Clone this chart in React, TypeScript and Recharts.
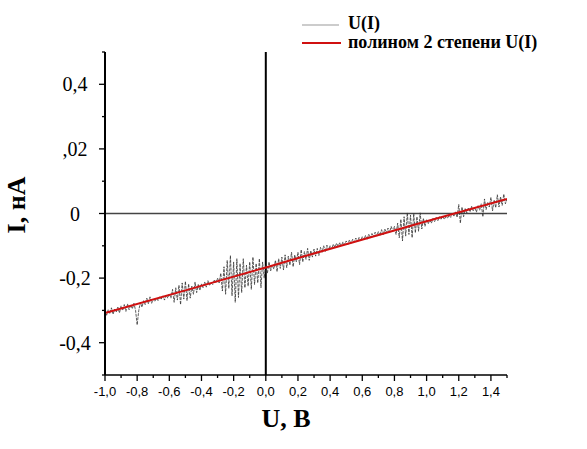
import React from 'react';
import { LineChart, Line, XAxis, YAxis, ReferenceLine } from 'recharts';

// U, B
const uValues = [
  -1.0, -0.99, -0.98, -0.97, -0.96, -0.95, -0.94, -0.93, -0.92, -0.91,
  -0.9, -0.89, -0.88, -0.87, -0.86, -0.85, -0.84, -0.83, -0.82, -0.81,
  -0.8, -0.79, -0.78, -0.77, -0.76, -0.75, -0.74, -0.73, -0.72, -0.71,
  -0.7, -0.69, -0.68, -0.67, -0.66, -0.65, -0.64, -0.63, -0.62, -0.61,
  -0.6, -0.59, -0.58, -0.57, -0.56, -0.55, -0.54, -0.53, -0.52, -0.51,
  -0.5, -0.49, -0.48, -0.47, -0.46, -0.45, -0.44, -0.43, -0.42, -0.41,
  -0.4, -0.39, -0.38, -0.37, -0.36, -0.35, -0.34, -0.33, -0.32, -0.31,
  -0.3, -0.29, -0.28, -0.27, -0.26, -0.25, -0.24, -0.23, -0.22, -0.21,
  -0.2, -0.19, -0.18, -0.17, -0.16, -0.15, -0.14, -0.13, -0.12, -0.11,
  -0.1, -0.09, -0.08, -0.07, -0.06, -0.05, -0.04, -0.03, -0.02, -0.01,
  0.0, 0.01, 0.02, 0.03, 0.04, 0.05, 0.06, 0.07, 0.08, 0.09,
  0.1, 0.11, 0.12, 0.13, 0.14, 0.15, 0.16, 0.17, 0.18, 0.19,
  0.2, 0.21, 0.22, 0.23, 0.24, 0.25, 0.26, 0.27, 0.28, 0.29,
  0.3, 0.31, 0.32, 0.33, 0.34, 0.35, 0.36, 0.37, 0.38, 0.39,
  0.4, 0.41, 0.42, 0.43, 0.44, 0.45, 0.46, 0.47, 0.48, 0.49,
  0.5, 0.51, 0.52, 0.53, 0.54, 0.55, 0.56, 0.57, 0.58, 0.59,
  0.6, 0.61, 0.62, 0.63, 0.64, 0.65, 0.66, 0.67, 0.68, 0.69,
  0.7, 0.71, 0.72, 0.73, 0.74, 0.75, 0.76, 0.77, 0.78, 0.79,
  0.8, 0.81, 0.82, 0.83, 0.84, 0.85, 0.86, 0.87, 0.88, 0.89,
  0.9, 0.91, 0.92, 0.93, 0.94, 0.95, 0.96, 0.97, 0.98, 0.99,
  1.0, 1.01, 1.02, 1.03, 1.04, 1.05, 1.06, 1.07, 1.08, 1.09,
  1.1, 1.11, 1.12, 1.13, 1.14, 1.15, 1.16, 1.17, 1.18, 1.19,
  1.2, 1.21, 1.22, 1.23, 1.24, 1.25, 1.26, 1.27, 1.28, 1.29,
  1.3, 1.31, 1.32, 1.33, 1.34, 1.35, 1.36, 1.37, 1.38, 1.39,
  1.4, 1.41, 1.42, 1.43, 1.44, 1.45, 1.46, 1.47, 1.48, 1.49,
  1.5,
];

const iValues = [
  -0.300, -0.315, -0.298, -0.310, -0.292, -0.312, -0.296, -0.305, -0.290, -0.308,
  -0.286, -0.300, -0.282, -0.303, -0.280, -0.298, -0.283, -0.295, -0.278, -0.300,
  -0.345, -0.300, -0.275, -0.290, -0.270, -0.282, -0.262, -0.280, -0.258, -0.278,
  -0.265, -0.272, -0.262, -0.270, -0.258, -0.265, -0.255, -0.268, -0.252, -0.262,
  -0.248, -0.262, -0.235, -0.275, -0.230, -0.268, -0.222, -0.282, -0.215, -0.265,
  -0.210, -0.270, -0.218, -0.262, -0.225, -0.250, -0.212, -0.245, -0.220, -0.238,
  -0.218, -0.230, -0.212, -0.228, -0.208, -0.222, -0.215, -0.220, -0.205, -0.215,
  -0.200, -0.215, -0.185, -0.240, -0.165, -0.250, -0.145, -0.232, -0.130, -0.255,
  -0.150, -0.275, -0.140, -0.260, -0.155, -0.245, -0.140, -0.230, -0.160, -0.225,
  -0.150, -0.235, -0.135, -0.220, -0.155, -0.215, -0.140, -0.230, -0.150, -0.200,
  -0.160, -0.185, -0.150, -0.178, -0.160, -0.172, -0.145, -0.180, -0.140, -0.170,
  -0.135, -0.175, -0.128, -0.168, -0.132, -0.160, -0.120, -0.165, -0.128, -0.150,
  -0.120, -0.158, -0.112, -0.150, -0.118, -0.142, -0.108, -0.145, -0.115, -0.135,
  -0.110, -0.132, -0.108, -0.130, -0.105, -0.120, -0.100, -0.118, -0.098, -0.112,
  -0.100, -0.110, -0.095, -0.105, -0.092, -0.102, -0.090, -0.100, -0.088, -0.096,
  -0.085, -0.096, -0.082, -0.092, -0.080, -0.088, -0.076, -0.088, -0.074, -0.084,
  -0.072, -0.082, -0.068, -0.080, -0.064, -0.076, -0.062, -0.072, -0.058, -0.070,
  -0.056, -0.068, -0.050, -0.066, -0.048, -0.060, -0.045, -0.058, -0.040, -0.055,
  -0.040, -0.065, -0.030, -0.075, -0.018, -0.085, -0.010, -0.070, 0.002, -0.065,
  -0.005, -0.075, 0.000, -0.060, -0.010, -0.055, 0.002, -0.048, -0.015, -0.040,
  -0.018, -0.032, -0.020, -0.030, -0.015, -0.025, -0.012, -0.022, -0.010, -0.018,
  -0.008, -0.018, -0.010, -0.014, -0.006, -0.012, 0.000, -0.008, 0.005, -0.012,
  0.028, -0.030, 0.020, -0.010, 0.015, 0.002, 0.018, 0.005, 0.022, 0.008,
  0.020, 0.004, 0.025, 0.010, 0.030, -0.010, 0.045, 0.012, 0.035, 0.020,
  0.050, 0.008, 0.042, 0.018, 0.058, 0.020, 0.052, 0.025, 0.060, 0.030,
  0.045,
];

// polynomial fit
const fitU = [-1.0, -0.5, 0.0, 0.5, 1.0, 1.5];
const fitI = [-0.308, -0.238, -0.167, -0.095, -0.024, 0.045];

const xTicks = [-1.0, -0.9, -0.8, -0.7, -0.6, -0.5, -0.4, -0.3, -0.2, -0.1, 0.0, 0.1, 0.2, 0.3, 0.4, 0.5, 0.6, 0.7, 0.8, 0.9, 1.0, 1.1, 1.2, 1.3, 1.4, 1.5];
const yTicks = [-0.5, -0.4, -0.3, -0.2, -0.1, 0.0, 0.1, 0.2, 0.3, 0.4, 0.5];
const yMajor = [-0.4, -0.2, 0.0, 0.2, 0.4];
const yLabels = ['-0,4', '-0,2', '0', ',02', '0,4'];

const seriesNames = ['U(I)', 'полином 2 степени U(I)'];

const measured = uValues.map((u, k) => ({ u, i: iValues[k] }));
const fitted = fitU.map((u, k) => ({ u, i: fitI[k] }));

const isMajor = (v: number) => Math.round(v * 10) % 2 === 0;

const XTick = (props: any) => {
  const { x, y, payload } = props;
  const major = isMajor(payload.value);
  return (
    <g>
      <line x1={x} x2={x} y1={y} y2={y + (major ? 6 : 3)} stroke="#000" strokeWidth={1.3} />
      {major && payload.value < 1.45 && (
        <text x={x} y={y + 21} textAnchor="middle" fontSize={13} fontFamily="Liberation Sans" fill="#000">
          {payload.value.toFixed(1).replace('.', ',')}
        </text>
      )}
    </g>
  );
};

const YTick = (props: any) => {
  const { x, y, payload } = props;
  const idx = yMajor.findIndex(v => Math.abs(v - payload.value) < 1e-6);
  const major = idx >= 0;
  return (
    <g>
      <line x1={x - (major ? 6 : 3)} x2={x} y1={y} y2={y} stroke="#000" strokeWidth={1.3} />
      {major && (
        <text x={75} y={y + 7} textAnchor="middle" fontSize={20} fontFamily="Liberation Serif" fill="#000">
          {yLabels[idx]}
        </text>
      )}
    </g>
  );
};

export default function App() {
  return (
    <div style={{ position: 'absolute', left: 0, top: 0, width: 587, height: 449, background: '#fff' }}>
      <LineChart width={587} height={449} margin={{ top: 52, right: 80, bottom: 0, left: 0 }}>
        <XAxis
          type="number"
          dataKey="u"
          domain={[-1, 1.5]}
          ticks={xTicks}
          interval={0}
          height={74}
          tickSize={0}
          tickMargin={0}
          tickLine={false}
          tick={<XTick />}
          axisLine={{ stroke: '#000', strokeWidth: 1.5 }}
          allowDataOverflow
        />
        <YAxis
          type="number"
          dataKey="i"
          domain={[-0.5, 0.5]}
          ticks={yTicks}
          interval={0}
          width={105}
          tickSize={0}
          tickMargin={0}
          tickLine={false}
          tick={<YTick />}
          axisLine={{ stroke: '#000', strokeWidth: 2 }}
          allowDataOverflow
        />
        <ReferenceLine y={0} stroke="#444" strokeWidth={1.5} />
        <ReferenceLine x={0} stroke="#000" strokeWidth={2} />
        <Line
          data={measured}
          dataKey="i"
          name={seriesNames[0]}
          type="linear"
          stroke="#333"
          strokeWidth={0.8}
          strokeDasharray="3 1"
          dot={false}
          isAnimationActive={false}
        />
        <Line
          data={fitted}
          dataKey="i"
          name={seriesNames[1]}
          type="monotone"
          stroke="#d01010"
          strokeWidth={2}
          dot={false}
          isAnimationActive={false}
        />
      </LineChart>
      <svg width={587} height={449} style={{ position: 'absolute', left: 0, top: 0, pointerEvents: 'none' }}>
        {/* legend */}
        <line x1={302} x2={339} y1={25} y2={25} stroke="#999" strokeWidth={1} />
        <text x={348} y={29} fontSize={18} fontWeight="bold" fontFamily="Liberation Serif" fill="#000">{seriesNames[0]}</text>
        <line x1={302} x2={341} y1={43} y2={43} stroke="#d01010" strokeWidth={2} />
        <text x={348} y={48} fontSize={18} fontWeight="bold" fontFamily="Liberation Serif" fill="#000">{seriesNames[1]}</text>
        {/* axis titles */}
        <text x={286} y={427} textAnchor="middle" fontSize={26} fontWeight="bold" fontFamily="Liberation Serif" fill="#000">U, B</text>
        <text x={25} y={205} transform="rotate(-90 25 205)" textAnchor="middle" fontSize={26} fontWeight="bold" fontFamily="Liberation Serif" fill="#000">I, нА</text>
      </svg>
    </div>
  );
}
